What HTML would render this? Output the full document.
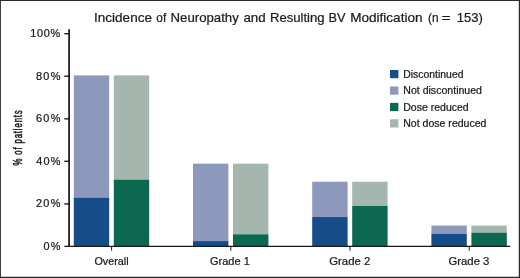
<!DOCTYPE html>
<html lang="en">
<head>
<meta charset="utf-8">
<title>Incidence of Neuropathy and Resulting BV Modification</title>
<style>
  html, body { margin: 0; padding: 0; background: #ffffff; }
  body { width: 520px; height: 278px; overflow: hidden; }
  svg { display: block; }
  text { font-family: "Liberation Sans", sans-serif; fill: #1a1a1a; stroke: #1a1a1a; stroke-width: 0.22px; }
</style>
</head>
<body>
<svg width="520" height="278" viewBox="0 0 520 278">
  <rect x="0" y="0" width="520" height="278" fill="#ffffff"/>
  <path id="frame" fill="#2a2a2a" d="M0 0H520V278H0Z M0.9 1.1V276.7H518.8V1.1Z" fill-rule="evenodd"/>

  <text id="title" y="21.7" font-size="12.9">
    <tspan x="94.03" textLength="57.94" lengthAdjust="spacingAndGlyphs">Incidence</tspan> <tspan x="156.31" textLength="9.90" lengthAdjust="spacingAndGlyphs">of</tspan> <tspan x="170.59" textLength="68.22" lengthAdjust="spacingAndGlyphs">Neuropathy</tspan> <tspan x="243.45" textLength="22.21" lengthAdjust="spacingAndGlyphs">and</tspan> <tspan x="270.0" textLength="54.59" lengthAdjust="spacingAndGlyphs">Resulting</tspan> <tspan x="328.53" textLength="17.04" lengthAdjust="spacingAndGlyphs">BV</tspan> <tspan x="350.16" textLength="72.38" lengthAdjust="spacingAndGlyphs">Modification</tspan> <tspan x="428.0" textLength="10.55" lengthAdjust="spacingAndGlyphs">(n</tspan> <tspan x="441.75" textLength="8.89" lengthAdjust="spacingAndGlyphs">=</tspan> <tspan x="456.77" textLength="26.08" lengthAdjust="spacingAndGlyphs">153)</tspan>
  </text>
  <g id="bars">
    <rect x="73.8" y="75.39" width="35.4" height="122.20" fill="#8d98bd"/>
    <rect x="73.8" y="197.59" width="35.4" height="48.81" fill="#164c89"/>
    <rect x="113.8" y="75.39" width="35.4" height="104.22" fill="#a4b6ad"/>
    <rect x="113.8" y="179.61" width="35.4" height="66.79" fill="#0c6851"/>
    <rect x="193.0" y="163.66" width="35.4" height="77.42" fill="#8d98bd"/>
    <rect x="193.0" y="241.08" width="35.4" height="5.32" fill="#164c89"/>
    <rect x="233.0" y="163.66" width="35.4" height="70.62" fill="#a4b6ad"/>
    <rect x="233.0" y="234.28" width="35.4" height="12.12" fill="#0c6851"/>
    <rect x="312.2" y="181.74" width="35.4" height="35.31" fill="#8d98bd"/>
    <rect x="312.2" y="217.05" width="35.4" height="29.35" fill="#164c89"/>
    <rect x="352.2" y="181.74" width="35.4" height="24.25" fill="#a4b6ad"/>
    <rect x="352.2" y="205.99" width="35.4" height="40.41" fill="#0c6851"/>
    <rect x="431.4" y="225.56" width="35.4" height="8.30" fill="#8d98bd"/>
    <rect x="431.4" y="233.85" width="35.4" height="12.55" fill="#164c89"/>
    <rect x="471.4" y="225.56" width="35.4" height="7.13" fill="#a4b6ad"/>
    <rect x="471.4" y="232.68" width="35.4" height="13.72" fill="#0c6851"/>
  </g>
  <g id="axes" stroke="#1a1a1a" fill="none">
    <line x1="69.1" y1="29.2" x2="69.1" y2="247.1" stroke-width="1.75"/>
    <line x1="64.3" y1="246.4" x2="510.3" y2="246.4" stroke-width="1.4"/>
    <g stroke-width="1.4">
      <line x1="64.3" y1="33.7" x2="69" y2="33.7"/>
      <line x1="64.3" y1="76.2" x2="69" y2="76.2"/>
      <line x1="64.3" y1="118.8" x2="69" y2="118.8"/>
      <line x1="64.3" y1="161.3" x2="69" y2="161.3"/>
      <line x1="64.3" y1="203.9" x2="69" y2="203.9"/>
    </g>
    <g stroke-width="1">
      <line x1="111.6" y1="246.4" x2="111.6" y2="250.7"/>
      <line x1="230.8" y1="246.4" x2="230.8" y2="250.7"/>
      <line x1="350.0" y1="246.4" x2="350.0" y2="250.7"/>
      <line x1="469.2" y1="246.4" x2="469.2" y2="250.7"/>
    </g>
  </g>
  <g id="yticks" font-size="10.1">
    <text letter-spacing="0.67" transform="translate(30.23,37.0) scale(1.08,1)">100%</text>
    <text letter-spacing="1.14" transform="translate(36.06,79.5) scale(1.08,1)">80%</text>
    <text letter-spacing="1.16" transform="translate(36.00,122.1) scale(1.08,1)">60%</text>
    <text letter-spacing="1.04" transform="translate(36.28,164.6) scale(1.08,1)">40%</text>
    <text letter-spacing="1.16" transform="translate(36.00,207.2) scale(1.08,1)">20%</text>
    <text letter-spacing="1.07" transform="translate(43.41,249.7) scale(1.08,1)">0%</text>
  </g>
  <text id="ylabel" font-size="13.0" font-weight="normal" letter-spacing="1.424" style="stroke-width:0.55px" transform="translate(21.6,165.6) rotate(-90) scale(0.6,1)">% of patients</text>
  <g id="xlabels" font-size="10.9">
    <text transform="translate(94.46,265.3) scale(0.9895,1)">Overall</text>
    <text transform="translate(209.9,265.3) scale(1.0141,1)">Grade 1</text>
    <text transform="translate(329.18,265.3) scale(1.0455,1)">Grade 2</text>
    <text transform="translate(448.48,265.3) scale(1.0414,1)">Grade 3</text>
  </g>
  <g id="legend" font-size="10.0">
    <rect x="390" y="70.0" width="8.4" height="8.2" fill="#164c89"/>
    <text transform="translate(403.27,77.8) scale(1.0426,1)">Discontinued</text>
    <rect x="390" y="86.5" width="8.4" height="8.2" fill="#8d98bd"/>
    <text transform="translate(403.25,94.3) scale(1.0589,1)">Not discontinued</text>
    <rect x="390" y="102.9" width="8.4" height="8.2" fill="#0c6851"/>
    <text transform="translate(403.26,110.7) scale(1.0518,1)">Dose reduced</text>
    <rect x="390" y="119.3" width="8.4" height="8.2" fill="#a4b6ad"/>
    <text transform="translate(403.26,127.0) scale(1.0555,1)">Not dose reduced</text>
  </g>
</svg>
</body>
</html>
